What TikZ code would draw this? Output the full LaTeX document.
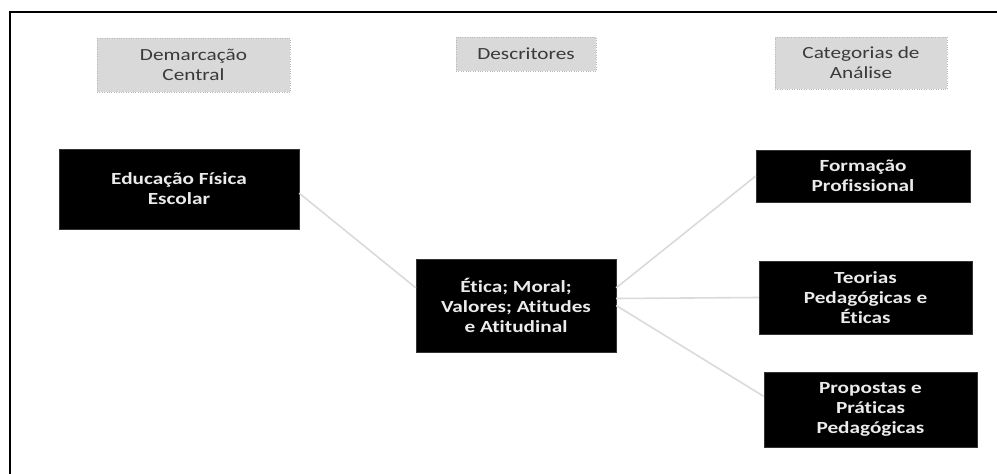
\documentclass[tikz,border=0pt]{standalone}
\usepackage{fontspec}
\setmainfont{Carlito}[FakeStretch=1.25, Ligatures=NoCommon]
\usetikzlibrary{positioning}
\definecolor{headgray}{HTML}{D9D9D9}
\definecolor{headtext}{HTML}{3A3A3A}
\definecolor{linkgray}{HTML}{DADADA}

\begin{document}
\begin{tikzpicture}[
  x=1pt, y=-1pt,
  head/.style={rectangle, fill=headgray, draw=gray!55, dotted, inner sep=0pt,
               align=center, text=headtext,
               font=\fontsize{17}{20}\selectfont},
  blk/.style={rectangle, fill=black, draw=black!80, inner sep=0pt,
              align=center, text=white!92!black,
              font=\fontsize{17}{20}\selectfont\bfseries},
  link/.style={draw=linkgray, line width=1.6pt},
]
  \useasboundingbox (0,0) rectangle (997,474);
  % frame
  \draw[line width=2pt] (10,474) -- (10,12) -- (997,12);

  % column headers
  \node[head, minimum width=193pt, minimum height=54pt] (hdem) at (193.5,65) {Demarcação\\Central};
  \node[head, minimum width=140pt, minimum height=34pt] (hdes) at (526,54)   {Descritores};
  \node[head, minimum width=172pt, minimum height=52pt] (hcat) at (861,63)   {Categorias de\\Análise};

  % boxes
  \node[blk, minimum width=240pt, minimum height=80pt] (efe)  at (179,189)   {Educação Física\\Escolar};
  \node[blk, minimum width=200pt, minimum height=93pt] (desc) at (516,305.5) {Ética; Moral;\\Valores; Atitudes\\e Atitudinal};
  \node[blk, minimum width=214pt, minimum height=52pt] (form) at (863,176)   {Formação\\Profissional};
  \node[blk, minimum width=213pt, minimum height=73pt] (teor) at (865.5,297.5) {Teorias\\Pedagógicas e\\Éticas};
  \node[blk, minimum width=213pt, minimum height=75pt] (prop) at (870.5,409.5) {Propostas e\\Práticas\\Pedagógicas};

  \draw[link] (efe.-2)  -- (desc.170);
  \draw[link] (desc.10) -- (form.west);
  \draw[link] (desc.4)  -- (teor.west);
  \draw[link] (desc.0)  -- (prop.173);
\end{tikzpicture}
\end{document}
